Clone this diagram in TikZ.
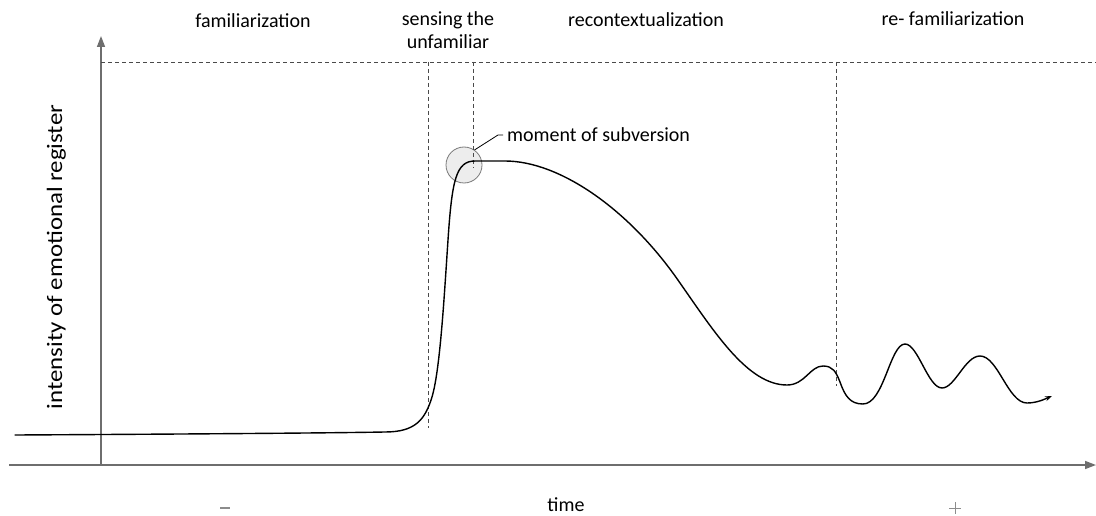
\documentclass[tikz,border=0pt]{standalone}
\usepackage{fontspec}
\setmainfont{Carlito}
\usetikzlibrary{arrows.meta}
\definecolor{axisgray}{HTML}{6E6E6E}
\definecolor{guidegray}{HTML}{4A4A4A}
\definecolor{spotfill}{HTML}{EDEDED}
\definecolor{spotline}{HTML}{7A7A7A}
\definecolor{signgray}{HTML}{8C8C8C}
\begin{document}
\begin{tikzpicture}[x=1pt,y=-1pt,
  axisline/.style={draw=axisgray,line width=1.5pt,-{Triangle[length=11pt,width=8pt]}},
  guide/.style={draw=guidegray,line width=0.7pt,dash pattern=on 4pt off 3pt},
  label/.style={font=\fontsize{20}{23}\selectfont,inner sep=0pt,anchor=base},
  sign/.style={draw=signgray},
  curve/.style={line width=1.4pt,line cap=round,-{Stealth[length=7pt,width=5pt]}}]
\useasboundingbox (0,0) rectangle (1096,516);

% axes
\coordinate (xstart) at (9,465);
\coordinate (xend) at (1096,465);
\coordinate (ystart) at (101,465);
\coordinate (yend) at (101,36);
\draw[axisline] (xstart) -- (xend);
\draw[axisline] (ystart) -- (yend);

% highlighted peak (under the guides and the curve)
\node[circle,minimum size=36pt,inner sep=0pt,fill=spotfill,draw=spotline,line width=0.8pt] (spot) at (464,165) {};

% phase boundaries
\coordinate (topl) at (101,62);
\coordinate (topr) at (1096,62);
\draw[guide] (topl) -- (topr);
\coordinate (b1t) at (428,62);  \coordinate (b1b) at (428,428);
\coordinate (b2t) at (473,62);  \coordinate (b2b) at (473,168);
\coordinate (b3t) at (836,62);  \coordinate (b3b) at (836,386);
\draw[guide] (b1t) -- (b1b);
\draw[guide] (b2t) -- (b2b);
\draw[guide] (b3t) -- (b3b);

% emotional response over time
\draw[curve] (15,435) .. controls (200,434) and (330,433) .. (385,432)
  .. controls (415,432) and (425,420) .. (432,397)
  .. controls (440,370) and (444,300) .. (448,240)
  .. controls (452,180) and (456,161) .. (475,161)
  -- (505,161)
  .. controls (560,161) and (630,210) .. (680,283)
  .. controls (715,333) and (748,385) .. (787,385)
  .. controls (805,385) and (810,366) .. (823,366)
  .. controls (833,366) and (836,372) .. (840,382)
  .. controls (845,396) and (850,404) .. (863,404)
  .. controls (884,404) and (890,344) .. (905,344)
  .. controls (918,344) and (928,388) .. (942,388)
  .. controls (955,388) and (965,356) .. (980,356)
  .. controls (998,356) and (1008,403) .. (1027,403)
  .. controls (1037,403) and (1045,399) .. (1052,396);

% phase labels
\node[label] (ph1) at (253,28) {familiarization};
\node[label] (ph2a) at (448,26) {sensing the};
\node[label] (ph2b) at (448,49) {unfamiliar};
\node[label] (ph3) at (646,27) {recontextualization};
\node[label] (ph4) at (953,26) {re- familiarization};

% callout
\node[label,anchor=base west] (subv) at (507,142) {moment of subversion};
\coordinate (bend) at (498,135);
\coordinate (lead) at (503,135);
\draw[draw=black,line width=0.8pt] (spot.55) -- (bend) -- (lead);

% axis labels
\node[label,rotate=90,font=\fontsize{22}{25}\selectfont] (ylab) at (62,257) {\scalebox{1.13}[1]{intensity of emotional register}};
\node[label] (tlab) at (566,511) {time};
\coordinate (m1) at (220,508); \coordinate (m2) at (230,508);
\draw[sign,line width=2pt] (m1) -- (m2);
\coordinate (p1) at (949,508); \coordinate (p2) at (961,508);
\coordinate (p3) at (955,502); \coordinate (p4) at (955,514);
\draw[sign,line width=0.8pt] (p1) -- (p2) (p3) -- (p4);
\end{tikzpicture}
\end{document}
